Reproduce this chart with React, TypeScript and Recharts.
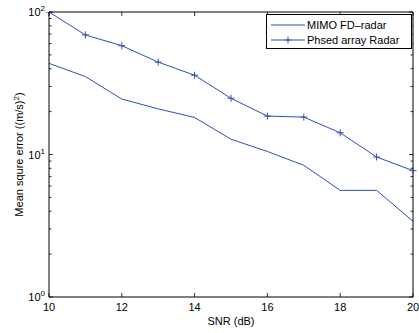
import { LineChart, Line, XAxis, YAxis, Legend } from 'recharts';

const snr = [10, 11, 12, 13, 14, 15, 16, 17, 18, 19, 20];
const mimoMse = [43.6, 35.2, 24.5, 20.9, 18.2, 12.8, 10.5, 8.4, 5.6, 5.6, 3.4];
const phasedMse = [100, 69, 58, 44.5, 36, 24.8, 18.6, 18.3, 14.2, 9.6, 7.7];

const xTicks = [10, 12, 14, 16, 18, 20];
const yTicks = [1, 2, 3, 4, 5, 6, 7, 8, 9, 10, 20, 30, 40, 50, 60, 70, 80, 90, 100];
const decades = [1, 10, 100];

const seriesNames = ['MIMO FD\u2013radar', 'Phsed array Radar'];

const data = snr.map((s, i) => ({ snr: s, mimo: mimoMse[i], phased: phasedMse[i] }));

const BLUE = '#2f4fb6';
const FONT = '"Liberation Sans", Arial, Helvetica, sans-serif';

const PlusMark = ({ cx, cy }: { cx: number; cy: number }) => (
  <g>
    <line x1={cx - 3.5} x2={cx + 3.5} y1={cy} y2={cy} stroke={BLUE} strokeWidth={1} />
    <line x1={cx} x2={cx} y1={cy - 3.5} y2={cy + 3.5} stroke={BLUE} strokeWidth={1} />
  </g>
);

const LeftTick = ({ x, y, payload }: any) => {
  const v = payload.value;
  const major = decades.includes(v);
  const exp = Math.round(Math.log10(v));
  return (
    <g>
      <line x1={x} x2={x + (major ? 4 : 2.5)} y1={y} y2={y} stroke="#000" strokeWidth={0.8} />
      {major && (
        <text x={x - 4} y={y + 4} textAnchor="end" fontSize={11} fill="#000" fontFamily={FONT}>
          10<tspan dy={-5} fontSize={8}>{exp}</tspan>
        </text>
      )}
    </g>
  );
};

const RightTick = ({ x, y, payload }: any) => {
  const major = decades.includes(payload.value);
  return <line x1={x} x2={x - (major ? 4 : 2.5)} y1={y} y2={y} stroke="#000" strokeWidth={0.8} />;
};

const BottomTick = ({ x, y, payload }: any) => (
  <g>
    <line x1={x} x2={x} y1={y} y2={y - 4} stroke="#000" strokeWidth={0.8} />
    <text x={x} y={y + 14} textAnchor="middle" fontSize={11} fill="#000" fontFamily={FONT}>
      {payload.value}
    </text>
  </g>
);

const TopTick = ({ x, y }: any) => (
  <line x1={x} x2={x} y1={y} y2={y + 4} stroke="#000" strokeWidth={0.8} />
);

const renderLegend = () => (
  <div
    style={{
      width: 146,
      height: 35,
      boxSizing: 'border-box',
      border: '1px solid #000',
      background: '#fff',
      fontFamily: FONT,
      fontSize: 11,
      position: 'relative',
    }}
  >
    {seriesNames.map((name, i) => (
      <div key={name} style={{ position: 'absolute', left: 0, top: 3 + i * 15, height: 14, display: 'flex', alignItems: 'center' }}>
        <svg width={40} height={14}>
          <line x1={4} x2={38} y1={7} y2={7} stroke={BLUE} strokeWidth={1} />
          {i === 1 && <PlusMark cx={21} cy={7} />}
        </svg>
        <span style={{ color: '#000', whiteSpace: 'nowrap' }}>{name}</span>
      </div>
    ))}
  </div>
);

export default function App() {
  return (
    <div style={{ position: 'absolute', left: 0, top: 0, background: '#fff' }}>
      <LineChart width={419} height={333} data={data} margin={{ top: 0, right: 0, bottom: 0, left: 0 }}>
        <XAxis
          dataKey="snr"
          type="number"
          domain={[10, 20]}
          ticks={xTicks}
          interval={0}
          height={36}
          tickSize={0}
          tickMargin={0}
          tickLine={false}
          axisLine={{ stroke: '#000', strokeWidth: 1 }}
          tick={<BottomTick />}
          label={{
            content: ({ viewBox }: any) => (
              <text x={viewBox.x + viewBox.width / 2} y={viewBox.y + 28} textAnchor="middle" fontSize={11} fill="#000" fontFamily={FONT}>
                SNR (dB)
              </text>
            ),
          }}
        />
        <XAxis
          xAxisId="t"
          dataKey="snr"
          type="number"
          orientation="top"
          domain={[10, 20]}
          ticks={xTicks}
          interval={0}
          height={12}
          tickSize={0}
          tickMargin={0}
          tickLine={false}
          axisLine={{ stroke: '#000', strokeWidth: 1 }}
          tick={<TopTick />}
        />
        <YAxis
          scale="log"
          type="number"
          domain={[1, 100]}
          allowDataOverflow
          ticks={yTicks}
          interval={0}
          width={49}
          tickSize={0}
          tickMargin={0}
          tickLine={false}
          axisLine={{ stroke: '#000', strokeWidth: 1 }}
          tick={<LeftTick />}
          label={{
            content: ({ viewBox }: any) => {
              const cy = viewBox.y + viewBox.height / 2;
              return (
                <text x={23} y={cy} transform={`rotate(-90 23 ${cy})`} textAnchor="middle" fontSize={11} fill="#000" fontFamily={FONT}>
                  Mean squre error ((m/s)<tspan dy={-4} fontSize={8}>2</tspan><tspan dy={4}>)</tspan>
                </text>
              );
            },
          }}
        />
        <YAxis
          yAxisId="r"
          orientation="right"
          scale="log"
          type="number"
          domain={[1, 100]}
          allowDataOverflow
          ticks={yTicks}
          interval={0}
          width={6}
          tickSize={0}
          tickMargin={0}
          tickLine={false}
          axisLine={{ stroke: '#000', strokeWidth: 1 }}
          tick={<RightTick />}
        />
        <Legend
          layout="horizontal"
          verticalAlign="middle"
          align="center"
          content={renderLegend}
          wrapperStyle={{ left: 266, top: 14, width: 146, height: 35 }}
        />
        <Line
          xAxisId="t"
          yAxisId="r"
          dataKey="mimo"
          stroke="none"
          dot={false}
          activeDot={false}
          legendType="none"
          isAnimationActive={false}
        />
        <Line
          dataKey="mimo"
          name={seriesNames[0]}
          stroke={BLUE}
          strokeWidth={1}
          dot={false}
          activeDot={false}
          isAnimationActive={false}
        />
        <Line
          dataKey="phased"
          name={seriesNames[1]}
          stroke={BLUE}
          strokeWidth={1}
          dot={(p: any) => <PlusMark key={`pm-${p.index}`} cx={p.cx} cy={p.cy} />}
          activeDot={false}
          isAnimationActive={false}
        />
      </LineChart>
    </div>
  );
}
